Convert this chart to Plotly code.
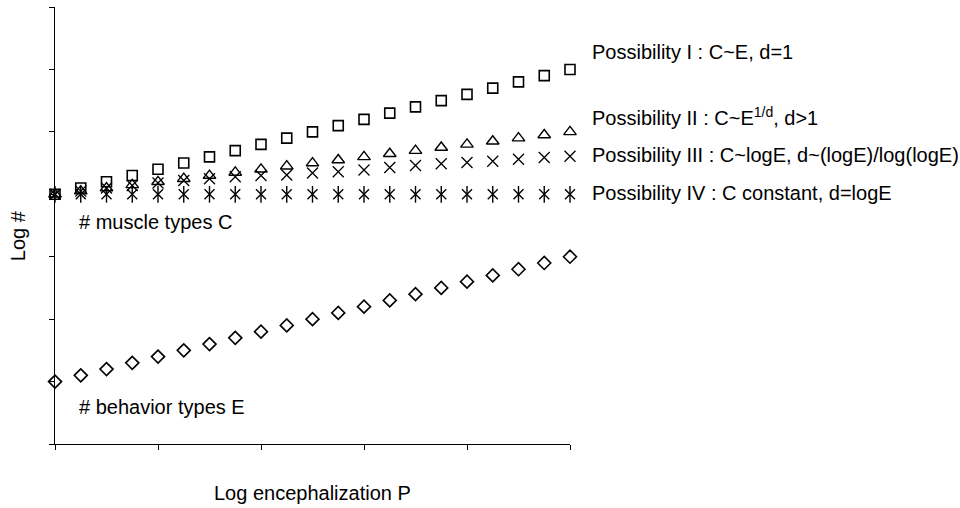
import plotly.graph_objects as go

# Log encephalization P (21 sample points)
x_vals = [0, 1, 2, 3, 4, 5, 6, 7, 8, 9, 10, 11, 12, 13, 14, 15, 16, 17, 18, 19, 20]

# Log # behavior types E
behavior_E = [1.0, 1.1, 1.2, 1.3, 1.4, 1.5, 1.6, 1.7, 1.8, 1.9, 2.0,
              2.1, 2.2, 2.3, 2.4, 2.5, 2.6, 2.7, 2.8, 2.9, 3.0]

# Log # muscle types C under the four possibilities
poss_I = [4.0, 4.1, 4.2, 4.3, 4.4, 4.5, 4.6, 4.7, 4.8, 4.9, 5.0,
          5.1, 5.2, 5.3, 5.4, 5.5, 5.6, 5.7, 5.8, 5.9, 6.0]
poss_II = [4.0, 4.05, 4.1, 4.15, 4.2, 4.25, 4.3, 4.35, 4.4, 4.45, 4.5,
           4.55, 4.6, 4.65, 4.7, 4.75, 4.8, 4.85, 4.9, 4.95, 5.0]
poss_III = [4.0, 4.05, 4.1, 4.14, 4.18, 4.22, 4.25, 4.28, 4.3, 4.31, 4.34,
            4.36, 4.39, 4.43, 4.46, 4.49, 4.51, 4.53, 4.56, 4.59, 4.61]
poss_IV = [4.0, 4.0, 4.0, 4.0, 4.0, 4.0, 4.0, 4.0, 4.0, 4.0, 4.0,
           4.0, 4.0, 4.0, 4.0, 4.0, 4.0, 4.0, 4.0, 4.0, 4.0]

labels = [
    "Possibility I : C~E, d=1",
    "Possibility II : C~E<sup>1/d</sup>, d>1",
    "Possibility III : C~logE, d~(logE)/log(logE)",
    "Possibility IV : C constant, d=logE",
]
x_title = "Log encephalization P"
y_title = "Log #"
muscle_label = "# muscle types C"
behavior_label = "# behavior types E"

FONT = "Liberation Sans, Arial, sans-serif"
FS = 20
BLK = "black"

# plot-area geometry in pixels
L, R, T, B = 55, 570, 6.5, 444
W, H = R - L, B - T


def px(xp):
    return (xp - L) / W


def py(yp):
    return (B - yp) / H


fig = go.Figure()


def add(y, symbol, size, lw):
    fig.add_trace(go.Scatter(
        x=x_vals, y=y, mode="markers", cliponaxis=False,
        marker=dict(symbol=symbol, size=size, color=BLK,
                    line=dict(color=BLK, width=lw)),
        showlegend=False, hoverinfo="skip"))


add(behavior_E, "diamond-open", 10, 1.6)
add(poss_IV, "x-thin-open", 10, 1.4)
add(poss_IV, "line-ns-open", 12, 1.4)
add(poss_III, "x-thin-open", 11, 1.3)
add(poss_II, "triangle-up-open", 11, 1.4)
add(poss_I, "square-open", 10, 1.6)


def ann(text, xp, yp, xanchor="left", textangle=0):
    return dict(x=px(xp), y=py(yp), xref="paper", yref="paper", text=text,
                showarrow=False, xanchor=xanchor, yanchor="middle",
                textangle=textangle,
                font=dict(family=FONT, size=FS, color=BLK))


label_py = [52, 116, 155, 193]
annotations = [ann(t, 590, yy) for t, yy in zip(labels, label_py)]
annotations.append(ann(muscle_label, 77, 222))
annotations.append(ann(behavior_label, 77, 407))
annotations.append(ann(x_title, 312.5, 493, xanchor="center"))
annotations.append(ann(y_title, 18, 236, xanchor="center", textangle=-90))

fig.update_layout(
    width=960, height=508,
    margin=dict(l=L, r=960 - R, t=T, b=508 - B),
    paper_bgcolor="white", plot_bgcolor="white",
    font=dict(family=FONT, size=FS, color=BLK),
    annotations=annotations,
    xaxis=dict(range=[0, 20], dtick=4, tick0=0, showgrid=False, zeroline=False,
               showline=True, linecolor=BLK, linewidth=1.3,
               ticks="outside", ticklen=5, tickcolor=BLK, tickwidth=1.3,
               showticklabels=False, automargin=False),
    yaxis=dict(range=[0, 7], dtick=1, tick0=0, showgrid=False, zeroline=False,
               showline=True, linecolor=BLK, linewidth=1.3,
               ticks="outside", ticklen=5, tickcolor=BLK, tickwidth=1.3,
               showticklabels=False, automargin=False),
)

fig.write_html("out.html",
               config={"displayModeBar": False},
               post_script="document.body.style.margin='0';document.body.style.overflow='hidden';")
